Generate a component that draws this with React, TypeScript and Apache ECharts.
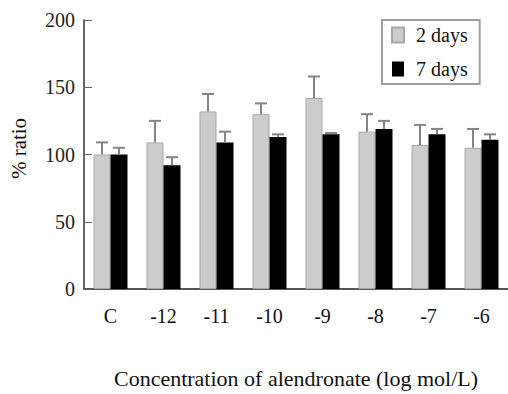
import React, { useEffect, useRef } from "react";
import * as echarts from "echarts";

const categories = ["C", "-12", "-11", "-10", "-9", "-8", "-7", "-6"];
const days2 = [100, 109, 132, 130, 142, 117, 107, 105];
const days2Err = [9, 16, 13, 8, 16, 13, 15, 14];
const days7 = [100, 92, 109, 113, 115, 119, 115, 111];
const days7Err = [5, 6, 8, 2, 1, 6, 4, 4];
const yTicks = [0, 50, 100, 150, 200];

const FONT = "Liberation Serif";

function errorSeries(name: string, means: number[], errs: number[], offset: number) {
  return {
    type: "custom",
    name,
    z: 5,
    data: means.map((m, i) => [i, m, m + errs[i]]),
    renderItem: (params: any, api: any) => {
      const i = api.value(0);
      const top = api.coord([i, api.value(1)]);
      const cap = api.coord([i, api.value(2)]);
      const x = top[0] + offset;
      const style = { stroke: "#858585", lineWidth: 2 };
      return {
        type: "group",
        children: [
          { type: "line", shape: { x1: x, y1: top[1], x2: x, y2: cap[1] }, style },
          { type: "line", shape: { x1: x - 6, y1: cap[1], x2: x + 6, y2: cap[1] }, style },
        ],
      };
    },
  };
}

export default function App() {
  const ref = useRef<HTMLDivElement>(null);
  useEffect(() => {
    const chart = echarts.init(ref.current!, null, { renderer: "svg" });
    chart.setOption({
      animation: false,
      backgroundColor: "#ffffff",
      textStyle: { fontFamily: FONT },
      grid: { left: 77, right: 0, top: 20, bottom: 95 },
      legend: {
        data: ["2 days", "7 days"],
        orient: "vertical",
        left: 382,
        top: 20,
        padding: [5, 12, 5, 9],
        itemGap: 14,
        itemWidth: 12,
        itemHeight: 15,
        borderColor: "#a0a0a0",
        borderWidth: 2,
        icon: "rect",
        textStyle: { fontFamily: FONT, fontSize: 20, color: "#111", padding: [0, 0, 0, 7] },
      },
      xAxis: {
        type: "category",
        data: categories,
        axisLine: { lineStyle: { color: "#555", width: 2 } },
        axisTick: { inside: true, length: 4, lineStyle: { color: "#666" } },
        axisLabel: { fontFamily: FONT, fontSize: 20, color: "#111", margin: 17 },
        name: "Concentration of alendronate (log mol/L)",
        nameLocation: "middle",
        nameGap: 78,
        nameTextStyle: { fontFamily: FONT, fontSize: 22, color: "#111" },
      },
      yAxis: {
        type: "value",
        min: 0,
        max: 200,
        interval: 50,
        axisLine: { show: true, lineStyle: { color: "#666", width: 2 } },
        axisTick: { show: true, inside: true, length: 8, lineStyle: { color: "#666" } },
        splitLine: { show: false },
        axisLabel: {
          fontFamily: FONT,
          fontSize: 20,
          color: "#222",
          margin: 9,
          formatter: (v: number) => (yTicks.includes(v) ? String(v) : ""),
        },
        name: "% ratio",
        nameLocation: "middle",
        nameGap: 55,
        nameRotate: 90,
        nameTextStyle: { fontFamily: FONT, fontSize: 21, color: "#111", padding: [0, 0, 0, 12] },
      },
      series: [
        {
          type: "bar",
          name: "2 days",
          data: days2,
          barWidth: 17,
          barGap: "0%",
          itemStyle: { color: "#cccccc", borderColor: "#a8a8a8", borderWidth: 1 },
        },
        {
          type: "bar",
          name: "7 days",
          data: days7,
          barWidth: 17,
          barGap: "0%",
          itemStyle: { color: "#000000" },
        },
        errorSeries("err2", days2, days2Err, -8.5),
        errorSeries("err7", days7, days7Err, 8.5),
      ],
    });
    return () => chart.dispose();
  }, []);
  return <div ref={ref} style={{ width: 508, height: 394, position: "absolute", left: 0, top: 0 }} />;
}
